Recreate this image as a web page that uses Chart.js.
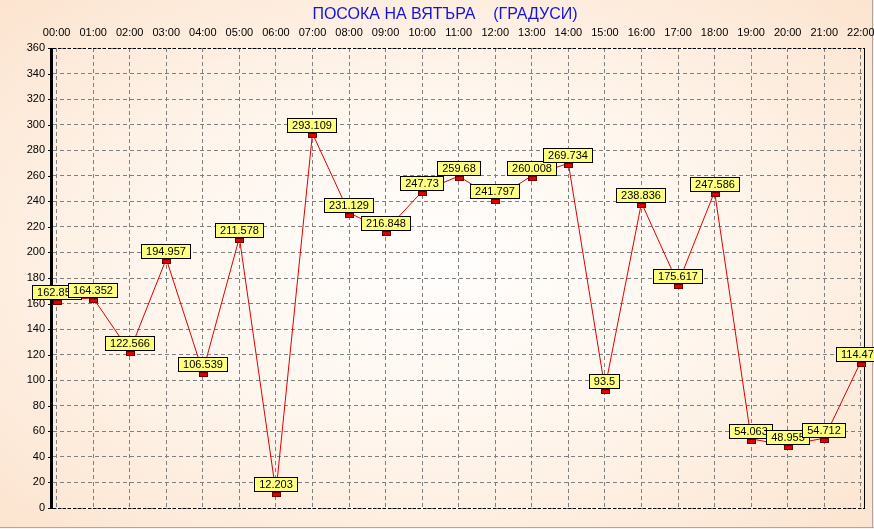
<!DOCTYPE html>
<html><head><meta charset="utf-8">
<script src="https://cdn.jsdelivr.net/npm/chart.js@4.4.0/dist/chart.umd.min.js"></script>
<style>
html,body{margin:0;padding:0;overflow:hidden;width:874px;height:529px;
background:radial-gradient(ellipse at 50% 50%, #fffefd 0%, #fff6ee 45%, #fce4cf 100%);}
canvas{display:block}
</style>
</head><body>
<canvas id="c" width="874" height="529"></canvas>
<script>
const chartTitle = 'ПОСОКА НА ВЯТЪРА    (ГРАДУСИ)';
const hours = ['00:00','01:00','02:00','03:00','04:00','05:00','06:00','07:00','08:00','09:00','10:00','11:00','12:00','13:00','14:00','15:00','16:00','17:00','18:00','19:00','20:00','21:00','22:00'];
const direction = [162.853,164.352,122.566,194.957,106.539,211.578,12.203,293.109,231.129,216.848,247.73,259.68,241.797,260.008,269.734,93.5,238.836,175.617,247.586,54.063,48.955,54.712,114.479];
const yMin = 0, yMax = 360, yStep = 20, yMinorStep = 5;

const FONT = "'Liberation Sans', Arial, sans-serif";

const framePlugin = {
  id: 'frame',
  beforeDraw(chart) {
    const ctx = chart.ctx;
    ctx.save();
    ctx.strokeStyle = '#a8a8a8';
    ctx.lineWidth = 1;
    ctx.beginPath();
    ctx.moveTo(0, 527.5); ctx.lineTo(874, 527.5);
    ctx.moveTo(872.5, 0); ctx.lineTo(872.5, 528);
    ctx.stroke();
    ctx.fillStyle = '#f4f4f4';
    ctx.fillRect(0, 528, 874, 1);
    // title
    ctx.fillStyle = '#1414dc';
    ctx.font = '16px ' + FONT;
    ctx.textAlign = 'center';
    ctx.textBaseline = 'middle';
    ctx.fillText(chartTitle, 445, 15);
    ctx.restore();
  },
  beforeDatasetsDraw(chart) {
    const ctx = chart.ctx;
    const a = chart.chartArea;
    const ys = chart.scales.y;
    ctx.save();
    ctx.strokeStyle = '#000';
    ctx.lineWidth = 1;
    ctx.setLineDash([3, 2]);
    ctx.beginPath();
    ctx.moveTo(a.left, Math.round(a.top) + 0.5); ctx.lineTo(a.right, Math.round(a.top) + 0.5);
    ctx.moveTo(a.left, Math.round(a.bottom) + 0.5); ctx.lineTo(a.right, Math.round(a.bottom) + 0.5);
    ctx.stroke();
    ctx.setLineDash([]);
    ctx.beginPath();
    ctx.moveTo(Math.round(a.right) - 0.5, a.top); ctx.lineTo(Math.round(a.right) - 0.5, a.bottom + 1);
    ctx.stroke();
    ctx.beginPath();
    for (let v = yMin; v <= yMax; v += yMinorStep) {
      const y = Math.round(ys.getPixelForValue(v)) + 0.5;
      const major = v % yStep === 0;
      ctx.moveTo(a.left - (major ? 5 : 3), y); ctx.lineTo(a.left, y);
    }
    ctx.stroke();
    ctx.lineWidth = 3;
    ctx.beginPath();
    ctx.moveTo(a.left - 1.5, a.top); ctx.lineTo(a.left - 1.5, a.bottom + 1);
    ctx.stroke();
    ctx.restore();
  },
  afterDatasetsDraw(chart) {
    const ctx = chart.ctx;
    const meta = chart.getDatasetMeta(0);
    ctx.save();
    meta.data.forEach(p => {
      const x = Math.round(p.x), y = Math.round(p.y);
      ctx.fillStyle = '#e00000';
      ctx.fillRect(x - 4, y, 9, 5);
      ctx.strokeStyle = '#700000';
      ctx.lineWidth = 1;
      ctx.strokeRect(x - 4 + 0.5, y + 0.5, 8, 4);
    });
    ctx.font = '11px ' + FONT;
    ctx.textAlign = 'center';
    ctx.textBaseline = 'middle';
    meta.data.forEach((p, i) => {
      const txt = String(direction[i]);
      const w = Math.round(ctx.measureText(txt).width) + 10;
      const h = 15;
      const x = Math.round(p.x - w / 2), y = Math.round(p.y) - h;
      ctx.fillStyle = '#ffff80';
      ctx.fillRect(x, y, w, h);
      ctx.strokeStyle = '#000';
      ctx.lineWidth = 1;
      ctx.strokeRect(x + 0.5, y + 0.5, w - 1, h - 1);
      ctx.fillStyle = '#000';
      ctx.fillText(txt, x + w / 2, y + h / 2 + 0.5);
    });
    ctx.restore();
  }
};

new Chart(document.getElementById('c'), {
  type: 'line',
  data: {
    datasets: [{
      data: direction.map((v, i) => ({x: i, y: v})),
      borderColor: '#dd0000',
      borderWidth: 1,
      pointRadius: 0,
      tension: 0,
      fill: false
    }]
  },
  options: {
    responsive: false,
    animation: false,
    devicePixelRatio: 1,
    layout: {padding: {left: 0, top: 0, right: 9, bottom: 21}},
    plugins: {legend: {display: false}, tooltip: {enabled: false}, title: {display: false}},
    scales: {
      x: {
        type: 'linear',
        position: 'top',
        min: -0.0985,
        max: 22.115,
        afterBuildTicks: s => { s.ticks = hours.map((_, i) => ({value: i})); },
        afterFit: s => { s.height = 48; s.paddingLeft = 0; s.paddingRight = 0; },
        ticks: {
          autoSkip: false, maxRotation: 0, padding: 8,
          color: '#000', font: {family: FONT, size: 11},
          callback: v => hours[v]
        },
        grid: {color: '#808080', lineWidth: 1, drawTicks: false},
        border: {display: false, dash: [4, 3]}
      },
      y: {
        min: yMin, max: yMax,
        afterFit: s => { s.width = 53; s.paddingTop = 0; s.paddingBottom = 0; },
        ticks: {stepSize: yStep, padding: 8, color: '#000', font: {family: FONT, size: 11}},
        grid: {color: '#808080', lineWidth: 1, drawTicks: false},
        border: {display: false, dash: [4, 3]}
      }
    }
  },
  plugins: [framePlugin]
});
</script>
</body></html>
